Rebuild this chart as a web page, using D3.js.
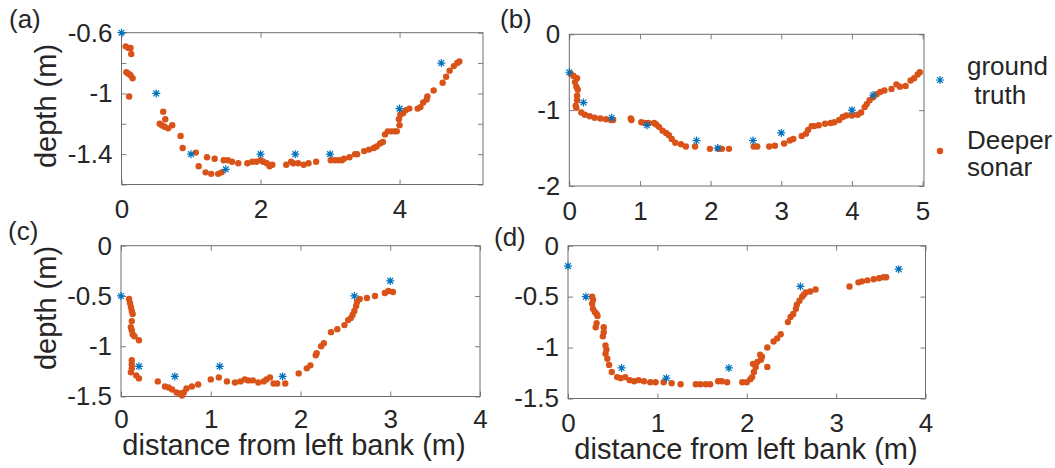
<!DOCTYPE html>
<html>
<head>
<meta charset="utf-8">
<script src="https://cdn.jsdelivr.net/npm/d3@7"></script>
<style>
  body { margin: 0; background: #fff; }
  svg text { font-family: "Liberation Sans", Arial, Helvetica, sans-serif; fill: #262626; }
</style>
</head>
<body>
<svg id="chart" width="1055" height="468"></svg>
<script>
// ground truth (star) and Deeper sonar (dot) samples, [distance m, depth m]
const truthA = [[0,-0.6],[0.5,-1.0],[1.0,-1.4],[1.5,-1.5],[2.0,-1.4],[2.5,-1.4],[3.0,-1.4],[4.0,-1.1],[4.6,-0.8]];
const sonarA = [[0.06,-0.69],[0.10,-0.70],[0.13,-0.70],[0.14,-0.74],[0.07,-0.86],[0.10,-0.87],[0.13,-0.88],[0.16,-0.90],[0.11,-1.02],
  [0.60,-1.12],[0.63,-1.17],[0.55,-1.20],[0.58,-1.21],[0.62,-1.22],[0.67,-1.23],[0.73,-1.21],[0.85,-1.28],[0.88,-1.36],
  [1.07,-1.39],[1.11,-1.48],[1.23,-1.42],[1.34,-1.43],[1.21,-1.52],[1.29,-1.53],[1.39,-1.53],[1.44,-1.52],[1.47,-1.44],
  [1.53,-1.44],[1.59,-1.45],[1.68,-1.46],[1.81,-1.46],[1.88,-1.45],[1.94,-1.45],[2.00,-1.44],[2.04,-1.45],[2.09,-1.46],
  [2.13,-1.48],[2.17,-1.47],[2.37,-1.47],[2.44,-1.45],[2.47,-1.46],[2.54,-1.46],[2.62,-1.47],[2.69,-1.46],[2.80,-1.45],
  [3.01,-1.44],[3.07,-1.44],[3.12,-1.44],[3.17,-1.44],[3.20,-1.43],[3.28,-1.42],[3.36,-1.40],[3.39,-1.40],[3.49,-1.38],
  [3.56,-1.37],[3.63,-1.36],[3.67,-1.35],[3.72,-1.33],[3.76,-1.32],[3.79,-1.27],[3.83,-1.25],[3.88,-1.25],[3.93,-1.25],
  [3.96,-1.25],[4.00,-1.21],[3.99,-1.17],[4.01,-1.14],[4.05,-1.13],[4.09,-1.11],[4.14,-1.10],[4.26,-1.10],[4.30,-1.09],
  [4.34,-1.06],[4.39,-1.04],[4.40,-1.02],[4.49,-0.98],[4.62,-0.93],[4.67,-0.89],[4.72,-0.85],[4.78,-0.82],[4.83,-0.80],[4.86,-0.79]];

const truthB = [[0,-0.5],[0.2,-0.9],[0.6,-1.1],[1.1,-1.2],[1.8,-1.4],[2.1,-1.5],[2.6,-1.4],[3.0,-1.3],[4.0,-1.0],[4.3,-0.8]];
const sonarB = [[0.02,-0.52],[0.06,-0.55],[0.11,-0.58],[0.08,-0.63],[0.10,-0.69],[0.12,-0.73],[0.11,-0.81],[0.11,-0.87],
  [0.09,-0.94],[0.10,-0.97],[0.17,-1.03],[0.22,-1.06],[0.29,-1.08],[0.36,-1.10],[0.44,-1.11],[0.52,-1.12],[0.59,-1.13],
  [0.62,-1.13],[0.87,-1.11],[0.88,-1.13],[1.02,-1.16],[1.07,-1.17],[1.12,-1.17],[1.20,-1.17],[1.23,-1.19],[1.27,-1.22],
  [1.32,-1.27],[1.37,-1.30],[1.41,-1.33],[1.45,-1.38],[1.50,-1.43],[1.58,-1.45],[1.65,-1.48],[1.78,-1.48],[1.99,-1.51],
  [2.11,-1.51],[2.16,-1.51],[2.26,-1.51],[2.61,-1.48],[2.66,-1.48],[2.83,-1.48],[2.91,-1.47],[3.04,-1.44],[3.12,-1.40],
  [3.17,-1.38],[3.29,-1.34],[3.35,-1.31],[3.38,-1.26],[3.43,-1.21],[3.47,-1.21],[3.53,-1.20],[3.62,-1.18],[3.70,-1.17],
  [3.75,-1.16],[3.82,-1.13],[3.87,-1.09],[3.92,-1.07],[4.00,-1.07],[4.08,-1.06],[4.13,-1.03],[4.18,-0.96],[4.21,-0.92],
  [4.25,-0.87],[4.30,-0.83],[4.35,-0.79],[4.40,-0.76],[4.46,-0.74],[4.56,-0.72],[4.63,-0.66],[4.68,-0.69],[4.76,-0.68],
  [4.83,-0.61],[4.88,-0.58],[4.93,-0.53],[4.96,-0.50]];

const truthC = [[0,-0.5],[0.2,-1.2],[0.6,-1.3],[1.1,-1.2],[1.8,-1.3],[2.6,-0.5],[3.0,-0.35]];
const sonarC = [[0.09,-0.53],[0.10,-0.57],[0.11,-0.61],[0.12,-0.65],[0.13,-0.68],[0.12,-0.75],[0.11,-0.81],[0.12,-0.84],
  [0.13,-0.88],[0.15,-0.90],[0.20,-0.94],[0.12,-1.14],[0.12,-1.18],[0.12,-1.22],[0.11,-1.26],[0.17,-1.29],[0.20,-1.32],
  [0.41,-1.35],[0.49,-1.40],[0.53,-1.41],[0.57,-1.43],[0.62,-1.46],[0.66,-1.47],[0.68,-1.49],[0.70,-1.46],[0.73,-1.42],
  [0.79,-1.40],[0.86,-1.38],[1.00,-1.33],[1.09,-1.31],[1.18,-1.35],[1.27,-1.36],[1.33,-1.35],[1.38,-1.33],[1.42,-1.34],
  [1.47,-1.34],[1.53,-1.36],[1.59,-1.35],[1.62,-1.33],[1.66,-1.31],[1.70,-1.37],[1.74,-1.37],[1.83,-1.37],[1.98,-1.27],
  [2.07,-1.22],[2.11,-1.19],[2.17,-1.09],[2.18,-1.07],[2.23,-1.00],[2.26,-0.97],[2.34,-0.86],[2.41,-0.83],[2.49,-0.79],
  [2.53,-0.74],[2.56,-0.72],[2.58,-0.69],[2.60,-0.65],[2.62,-0.60],[2.63,-0.56],[2.66,-0.53],[2.74,-0.52],[2.83,-0.50],
  [2.94,-0.47],[2.98,-0.45],[3.03,-0.46]];

const truthD = [[0,-0.2],[0.2,-0.5],[0.6,-1.2],[1.1,-1.3],[1.8,-1.2],[2.6,-0.4],[3.7,-0.23]];
const sonarD = [[0.27,-0.50],[0.28,-0.53],[0.27,-0.57],[0.28,-0.62],[0.30,-0.65],[0.32,-0.67],[0.33,-0.69],[0.32,-0.76],
  [0.31,-0.80],[0.40,-0.80],[0.40,-0.85],[0.39,-0.89],[0.42,-0.98],[0.43,-1.02],[0.42,-1.06],[0.44,-1.11],[0.46,-1.17],
  [0.49,-1.24],[0.55,-1.29],[0.59,-1.30],[0.64,-1.29],[0.69,-1.32],[0.74,-1.33],[0.79,-1.32],[0.85,-1.33],[0.92,-1.34],
  [0.98,-1.34],[1.07,-1.34],[1.16,-1.35],[1.26,-1.36],[1.43,-1.36],[1.48,-1.36],[1.54,-1.36],[1.59,-1.36],[1.68,-1.33],
  [1.72,-1.33],[1.78,-1.34],[1.95,-1.34],[2.00,-1.34],[2.04,-1.31],[2.06,-1.29],[2.08,-1.24],[2.10,-1.19],[2.07,-1.16],
  [2.12,-1.14],[2.16,-1.12],[2.17,-1.09],[2.15,-1.07],[2.23,-1.00],[2.23,-1.19],[2.30,-0.94],[2.34,-0.91],[2.38,-0.87],
  [2.46,-0.75],[2.49,-0.70],[2.52,-0.67],[2.55,-0.62],[2.56,-0.58],[2.59,-0.54],[2.62,-0.50],[2.64,-0.48],[2.66,-0.46],
  [2.71,-0.45],[2.77,-0.43],[3.15,-0.40],[3.25,-0.36],[3.29,-0.35],[3.35,-0.34],[3.42,-0.33],[3.48,-0.32],[3.53,-0.31],[3.56,-0.31]];

// axis ticks and the tick labels that are shown
const xTicksA = [0, 2, 4];
const yTicksA = [-1.6, -1.4, -1.2, -1.0, -0.8, -0.6];
const yLabelsA = ["", "-1.4", "", "-1", "", "-0.6"];
const xTicksB = [0, 1, 2, 3, 4, 5];
const yTicksB = [-2, -1, 0];
const yLabelsB = ["-2", "-1", "0"];
const xTicksCD = [0, 1, 2, 3, 4];
const yTicksCD = [-1.5, -1, -0.5, 0];
const yLabelsCD = ["-1.5", "-1", "-0.5", "0"];

const legendLabels = [["ground", " truth"], ["Deeper", "sonar"]];

const blue = "#0072BD", orange = "#D95319";
const svg = d3.select("#chart");
svg.append("rect").attr("width", 1055).attr("height", 468).attr("fill", "#fff");

const panels = [
  { tag: "(a)", truth: truthA, sonar: sonarA, box: [121.5, 483, 32.7, 184.5], xd: [0, 5.2], yd: [-1.6, -0.6],
    xt: xTicksA, yt: yTicksA, yl: yLabelsA, tagPos: [9, 28], xlab: false, ylabY: 106, xpad: 15.5 },
  { tag: "(b)", truth: truthB, sonar: sonarB, box: [569.3, 924, 34.3, 186], xd: [0, 5.02], yd: [-2, 0],
    xt: xTicksB, yt: yTicksB, yl: yLabelsB, tagPos: [500, 28], xlab: false, ylabY: null, xpad: 15.5 },
  { tag: "(c)", truth: truthC, sonar: sonarC, box: [121, 480, 245.7, 396.5], xd: [0, 4], yd: [-1.5, 0],
    xt: xTicksCD, yt: yTicksCD, yl: yLabelsCD, tagPos: [8, 239.5], xlab: [294, 455], ylabY: 308, xpad: 13 },
  { tag: "(d)", truth: truthD, sonar: sonarD, box: [568, 925.5, 245.7, 398.5], xd: [0, 4], yd: [-1.5, 0],
    xt: xTicksCD, yt: yTicksCD, yl: yLabelsCD, tagPos: [494, 246], xlab: [746, 459], ylabY: null, xpad: 15.5 }
];

const star = s => {
  const d = s * 0.72;
  return `M${-s},0H${s}M0,${-s}V${s}M${-d},${-d}L${d},${d}M${-d},${d}L${d},${-d}`;
};

panels.forEach(p => {
  const [l, r, t, b] = p.box;
  const x = d3.scaleLinear().domain(p.xd).range([l, r]);
  const y = d3.scaleLinear().domain(p.yd).range([b, t]);
  const g = svg.append("g");

  const styleAxis = sel => {
    sel.select(".domain").remove();
    sel.selectAll(".tick line").attr("stroke", "#5a5a5a").attr("stroke-width", 0.8);
    sel.selectAll("text").attr("font-size", 26).attr("fill", "#262626")
      .attr("font-family", '"Liberation Sans", Arial, sans-serif');
  };

  g.append("g").attr("transform", `translate(0,${b})`)
    .call(d3.axisBottom(x).tickValues(p.xt).tickSize(-5).tickSizeOuter(0).tickPadding(p.xpad).tickFormat(d3.format("d")))
    .call(styleAxis);
  g.append("g").attr("transform", `translate(0,${t})`)
    .call(d3.axisTop(x).tickValues(p.xt).tickSize(-5).tickSizeOuter(0).tickFormat(""))
    .call(styleAxis);
  g.append("g").attr("transform", `translate(${l},0)`)
    .call(d3.axisLeft(y).tickValues(p.yt).tickSize(-5).tickSizeOuter(0).tickPadding(9)
      .tickFormat((d, i) => p.yl[i]))
    .call(styleAxis);
  g.append("g").attr("transform", `translate(${r},0)`)
    .call(d3.axisRight(y).tickValues(p.yt).tickSize(-5).tickSizeOuter(0).tickFormat(""))
    .call(styleAxis);

  g.append("rect").attr("x", l).attr("y", t).attr("width", r - l).attr("height", b - t)
    .attr("fill", "none").attr("stroke", "#6e6e6e").attr("stroke-width", 1);

  g.append("g").selectAll("circle").data(p.sonar).join("circle")
    .attr("cx", d => x(d[0])).attr("cy", d => y(d[1])).attr("r", 3.2).attr("fill", orange);

  g.append("g").selectAll("path").data(p.truth).join("path")
    .attr("transform", d => `translate(${x(d[0])},${y(d[1])})`)
    .attr("d", star(4)).attr("fill", "none").attr("stroke", blue).attr("stroke-width", 1.2);

  g.append("text").attr("x", p.tagPos[0]).attr("y", p.tagPos[1]).attr("font-size", 26).text(p.tag);

  if (p.ylabY !== null) {
    g.append("text").attr("transform", `translate(56,${p.ylabY}) rotate(-90)`)
      .attr("text-anchor", "middle").attr("font-size", 29).text("depth (m)");
  }
  if (p.xlab) {
    g.append("text").attr("x", p.xlab[0]).attr("y", p.xlab[1])
      .attr("text-anchor", "middle").attr("font-size", 29).text("distance from left bank (m)");
  }
});

// legend beside panel (b)
const leg = svg.append("g");
leg.append("path").attr("transform", "translate(940,80)").attr("d", star(4))
  .attr("fill", "none").attr("stroke", blue).attr("stroke-width", 1.2);
leg.append("circle").attr("cx", 940).attr("cy", 151).attr("r", 3.2).attr("fill", orange);
const legY = [[75, 104], [149, 176]];
legendLabels.forEach((lines, i) => {
  lines.forEach((s, j) => {
    leg.append("text").attr("x", 967).attr("y", legY[i][j]).attr("font-size", 26)
      .attr("xml:space", "preserve").style("white-space", "pre").text(s);
  });
});
</script>
</body>
</html>
